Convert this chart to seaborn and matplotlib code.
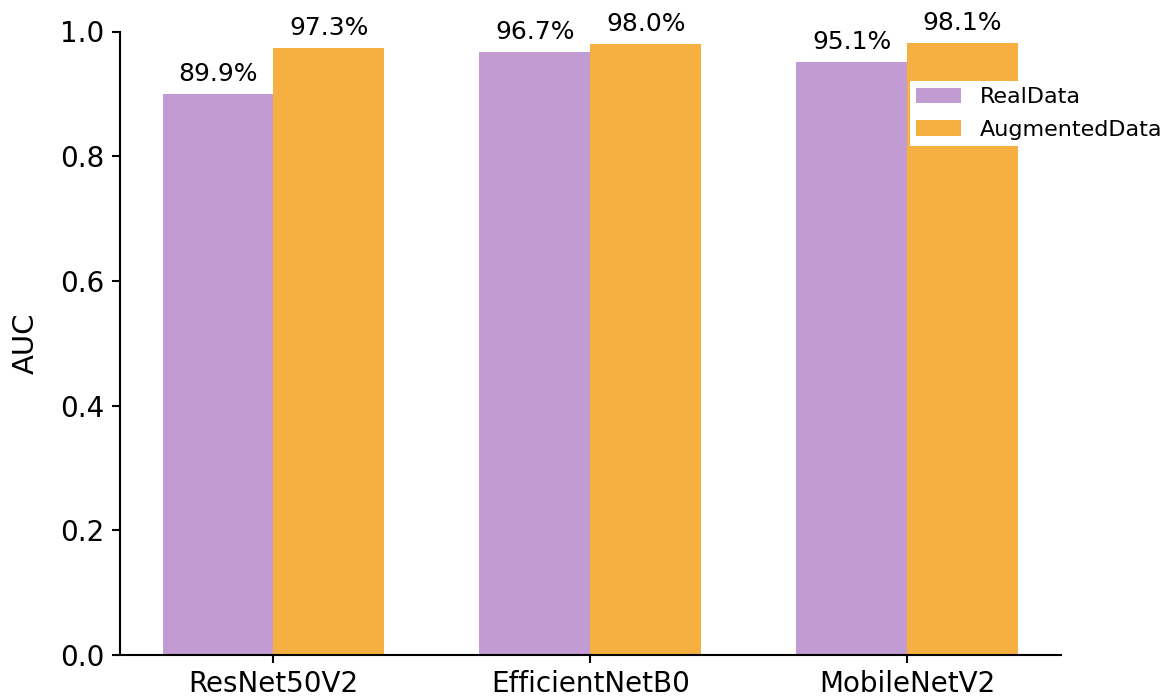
import seaborn as sns
import matplotlib.pyplot as plt
import pandas as pd

models = ["ResNet50V2", "EfficientNetB0", "MobileNetV2"]
real_auc = [0.899, 0.967, 0.951]
aug_auc = [0.973, 0.980, 0.981]
series = ["RealData", "AugmentedData"]
colors = ["#C39BD3", "#F5B041"]

df = pd.DataFrame({
    "model": models * 2,
    "AUC": real_auc + aug_auc,
    "data": [series[0]] * 3 + [series[1]] * 3,
})

sns.set_style("ticks")
plt.rcParams["font.family"] = ["DejaVu Sans"]
plt.rcParams.update({"text.color": "black", "axes.labelcolor": "black",
                     "xtick.color": "black", "ytick.color": "black",
                     "axes.edgecolor": "black"})

fig, ax = plt.subplots(figsize=(11.63, 7), dpi=100)
sns.barplot(data=df, x="model", y="AUC", hue="data", palette=colors,
            width=0.7, saturation=1, errorbar=None, linewidth=0, ax=ax)

# labels above bars
for cont in ax.containers:
    ax.bar_label(cont, labels=[f"{b.get_height()*100:.1f}%" for b in cont],
                 padding=6, fontsize=18)

ax.set_xlim(-0.485, 2.485)
ax.set_ylim(0, 1.0)
ax.set_xlabel("")
ax.set_ylabel("AUC", fontsize=21, labelpad=15)
ax.tick_params(axis="both", labelsize=20, width=1.5, length=6, pad=5)
for s in ["left", "bottom"]:
    ax.spines[s].set_linewidth(1.5)
sns.despine(ax=ax)

leg = ax.legend(loc="upper right", bbox_to_anchor=(1.115, 0.921), fontsize=16,
                frameon=True, framealpha=1, edgecolor="none", fancybox=False,
                borderpad=0.3, borderaxespad=0, handlelength=2.0,
                handletextpad=0.85, labelspacing=0.55)

plt.subplots_adjust(left=0.103, right=0.912, top=0.955, bottom=0.064)
plt.savefig("out.png")
